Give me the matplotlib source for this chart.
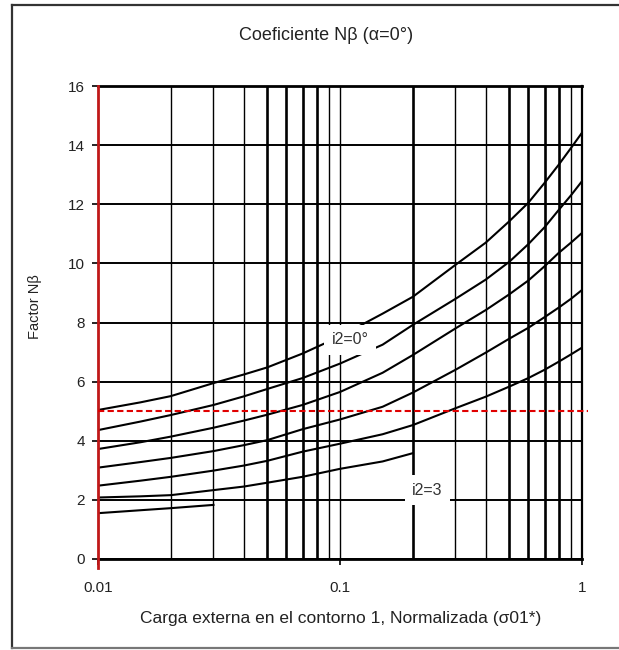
import numpy as np
import matplotlib
matplotlib.use("Agg")
import matplotlib.pyplot as plt
from matplotlib.lines import Line2D

plt.rcParams['font.family'] = ['Liberation Sans', 'DejaVu Sans']

# ---- data ----
x_load = [0.01, 0.015, 0.02, 0.03, 0.04, 0.05, 0.07, 0.1, 0.15, 0.2,
          0.3, 0.4, 0.5, 0.6, 0.7, 0.8, 0.9, 1.0]
nan = np.nan
nb_i2_00 = [5.04, 5.30, 5.51, 5.95, 6.24, 6.48, 6.95, 7.53, 8.30, 8.87,
            9.95, 10.70, 11.42, 12.05, 12.72, 13.33, 13.90, 14.42]
nb_i2_05 = [4.36, 4.65, 4.87, 5.21, 5.50, 5.75, 6.12, 6.61, 7.25, 7.92,
            8.80, 9.45, 10.05, 10.65, 11.22, 11.80, 12.30, 12.78]
nb_i2_10 = [3.72, 3.95, 4.14, 4.44, 4.68, 4.88, 5.21, 5.65, 6.30, 6.90,
            7.80, 8.42, 8.95, 9.42, 9.90, 10.35, 10.70, 11.03]
nb_i2_15 = [3.09, 3.28, 3.42, 3.65, 3.85, 4.02, 4.39, 4.72, 5.15, 5.63,
            6.40, 6.98, 7.45, 7.82, 8.18, 8.50, 8.80, 9.10]
nb_i2_20 = [2.48, 2.65, 2.78, 2.99, 3.16, 3.32, 3.63, 3.90, 4.22, 4.53,
            5.10, 5.49, 5.83, 6.12, 6.40, 6.67, 6.92, 7.15]
nb_i2_25 = [2.08, 2.12, 2.16, 2.33, 2.45, 2.58, 2.78, 3.05, 3.30, 3.58,
            nan, nan, nan, nan, nan, nan, nan, nan]
nb_i2_30 = [1.55, 1.65, 1.72, 1.83, nan, nan, nan, nan, nan, nan,
            nan, nan, nan, nan, nan, nan, nan, nan]
curves = [nb_i2_00, nb_i2_05, nb_i2_10, nb_i2_15, nb_i2_20, nb_i2_25, nb_i2_30]

y_ticks = [0, 2, 4, 6, 8, 10, 12, 14, 16]
x_ticks = [0.01, 0.1, 1]
x_tick_labels = ['0.01', '0.1', '1']
ref_value = 5.0
x_min = 0.01

label_top = 'i2=0°'
label_top_pos = (0.11, 7.41)
label_bot = 'i2=3'
label_bot_pos = (0.23, 2.33)

title = 'Coeficiente Nβ (α=0°)'
xlabel = 'Carga externa en el contorno 1, Normalizada (σ01*)'
ylabel = 'Factor Nβ'

# ---- figure ----
fig = plt.figure(figsize=(6.19, 6.5), dpi=100)
ax = fig.add_axes([98/619, 1-559/650, (582-98)/619, (559-86)/650])
ax.set_xscale('log')
ax.set_xlim(0.01, 1)
ax.set_ylim(0, 16)

# vertical grid (log minor/major), some drawn heavier as in the source
grid_x = [m * 10.0**e for e in (-2, -1) for m in range(2, 10)] + [0.1]
heavy = {0.05, 0.06, 0.07, 0.08, 0.2, 0.5, 0.6, 0.7, 0.8}
for gx in grid_x:
    w = 1.9 if any(abs(gx - h) < 1e-9 for h in heavy) else 1.0
    ax.axvline(gx, color='black', lw=w, zorder=1)

ax.set_yticks(y_ticks)
ax.set_yticklabels([str(v) for v in y_ticks])
ax.yaxis.grid(True, color='black', lw=1.4, zorder=1)
ax.set_axisbelow(True)

ax.set_xticks(x_ticks)
ax.set_xticklabels(x_tick_labels)
ax.xaxis.set_minor_locator(matplotlib.ticker.NullLocator())

for s in ['top', 'bottom']:
    ax.spines[s].set_linewidth(2.0)
ax.spines['right'].set_linewidth(1.6)
ax.spines['left'].set_visible(False)

for c in curves:
    ax.plot(x_load, c, color='black', lw=1.5, zorder=3)

bbox = dict(boxstyle='square,pad=0.45', fc='white', ec='none')
ax.text(*label_top_pos, label_top, fontsize=11.5, color='#333333',
        ha='center', va='center', bbox=bbox, zorder=4)
ax.text(*label_bot_pos, label_bot, fontsize=11.5, color='#333333',
        ha='center', va='center', bbox=bbox, zorder=4)

# red reference lines
ax.axvline(x_min, ymin=-0.018, ymax=1, color='#c01818', lw=2.0,
           zorder=6, clip_on=False)
ax.axhline(ref_value, xmin=0, xmax=1.012, color='#e00000', lw=1.5,
           ls=(0, (3, 1.6)), zorder=6, clip_on=False)

ax.tick_params(axis='both', which='major', direction='out', length=4.5,
               width=1.2, labelsize=11, labelcolor='#222222')
ax.tick_params(axis='y', pad=5)
ax.tick_params(axis='x', pad=11)

fig.text(326/619, 1-35/650, title, fontsize=13, ha='center', va='center',
         color='#222222')
fig.text(341/619, 1-618/650, xlabel, fontsize=12.5, ha='center',
         va='center', color='#222222')
fig.text(35/619, 1-307/650, ylabel, fontsize=10.5, ha='center', va='center',
         rotation=90, color='#222222')

# outer frame
bx = 12/619
fig.add_artist(Line2D([bx, bx], [1-5/650, 1-648/650], color='#333333', lw=1.6))
fig.add_artist(Line2D([bx, 1], [1-5/650, 1-5/650], color='#333333', lw=1.6))
fig.add_artist(Line2D([bx, 1], [1-648/650, 1-648/650], color='#777777', lw=1.6))

fig.savefig('out.png', dpi=100)
